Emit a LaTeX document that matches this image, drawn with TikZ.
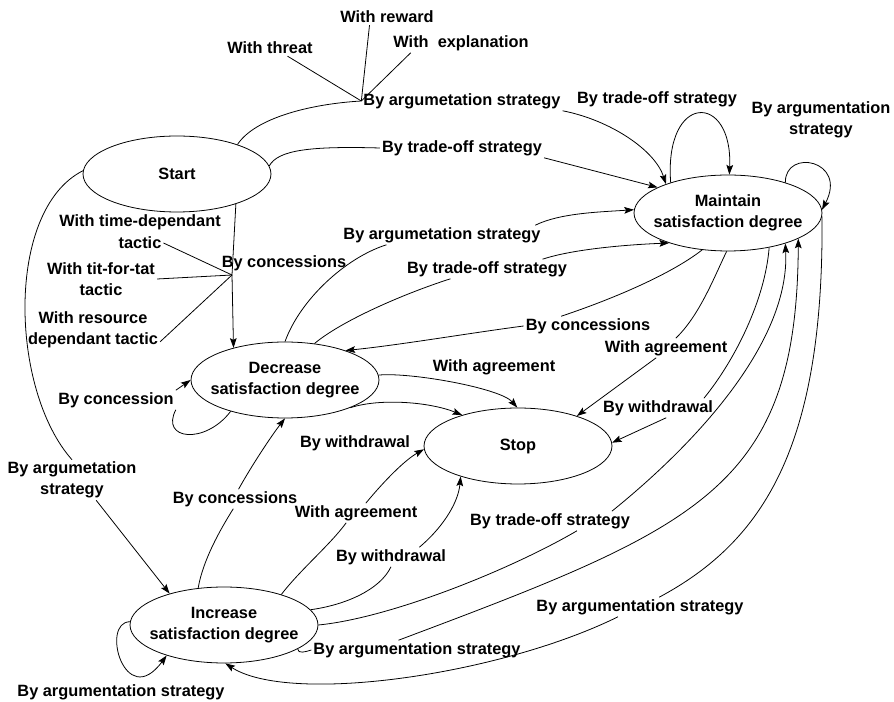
\documentclass[tikz,border=0pt]{standalone}
\usepackage{fontspec}
\setmainfont{Liberation Sans}
\usetikzlibrary{shapes.geometric}
\usetikzlibrary{arrows.meta}
\tikzstyle{state}=[draw, ellipse, inner xsep=-5pt, inner ysep=0pt, minimum width=3.76cm, minimum height=1.52cm, align=center, font=\fontsize{9.3}{11.9}\selectfont\bfseries]
\tikzstyle{lbl}=[inner sep=1pt, align=center, font=\fontsize{9.3}{11.9}\selectfont\bfseries]
\tikzstyle{tran}=[-{Stealth[length=5.5pt, width=3.8pt, inset=1pt]}]

\begin{document}
\begin{tikzpicture}[x=0.02cm, y=-0.02cm, line width=0.45pt]
        \useasboundingbox (0,0) rectangle (894,702);
        % states
        \node[state] (S1) at (177,174) {Start};
        \node[state] (S2) at (728,213) {Maintain\\satisfaction degree};
        \node[state] (S3) at (285,380) {Decrease\\satisfaction degree};
        \node[state] (S4) at (518,446) {Stop};
        \node[state] (S5) at (224,625) {Increase\\satisfaction degree};
        % labels
        \node[lbl] (L1)  at (462,101) {By argumetation strategy};
        \node[lbl] (T1)  at (270,48)  {With threat};
        \node[lbl] (T2)  at (387,17)  {With reward};
        \node[lbl] (T3)  at (461,43)  {With\ \ explanation};
        \node[lbl] (L2)  at (462,148) {By trade-off strategy};
        \node[lbl] (L3)  at (657,99)  {By trade-off strategy};
        \node[lbl] (L4)  at (821,120) {By argumentation\\strategy};
        \node[lbl] (L5)  at (442,235) {By argumetation strategy};
        \node[lbl] (L6)  at (487,269) {By trade-off strategy};
        \node[lbl] (L7)  at (588,326) {By concessions};
        \node[lbl] (L8)  at (666,348) {With agreement};
        \node[lbl] (L9)  at (658,408) {By withdrawal};
        \node[lbl] (L10) at (494,367) {With agreement};
        \node[lbl] (L11) at (116,400) {By concession};
        \node[lbl] (L12) at (284,263) {By concessions};
        \node[lbl] (T4)  at (140,222) {With time-dependant};
        \node[lbl] (T4b) at (140,243) {tactic};
        \node[lbl] (T5)  at (101,279) {With tit-for-tat\\tactic};
        \node[lbl] (T6)  at (93,330)  {With resource\\dependant tactic};
        \node[lbl] (L13) at (72,480)  {By argumetation\\strategy};
        \node[lbl] (L14) at (235,499) {By concessions};
        \node[lbl] (L15) at (356,513) {With agreement};
        \node[lbl] (L16) at (391,557) {By withdrawal};
        \node[lbl] (L17) at (355,443) {By withdrawal};
        \node[lbl] (L18) at (550,521) {By trade-off strategy};
        \node[lbl] (L19) at (417,650) {By argumentation strategy};
        \node[lbl] (L20) at (640,607) {By argumentation strategy};
        \node[lbl] (L21) at (121,692) {By argumentation strategy};
        \coordinate (J1) at (232,275);
        % start
        \draw (S1.26) .. controls (255,118) and (310,104) .. (L1.west);
        \draw[tran] (L1.south east) .. controls (610,120) and (655,150) .. (S2.155);
        \draw (T1.-25) -- (L1.west);
        \draw (T2.205) -- (L1.west);
        \draw (T3.191) -- (L1.west);
        \draw (S1.5) .. controls (278,150) and (310,146) .. (L2.west);
        \draw[tran] (L2.south east) -- (S2.160);
        \draw (S1.333) -- (J1);
        \draw[tran] (J1) -- (S3.148);
        \draw (T4b.east) -- (J1);
        \draw (T5.east) -- (J1);
        \draw (T6.-10) -- (J1);
        \draw (S1.178) .. controls (5,210) and (10,390) .. (L13.north);
        \draw[tran] (L13.-40) -- (S5.150);
        % maintain
        \draw[tran] (S2.152) .. controls (664,92) and (733,92) .. (S2.88);
        \draw[tran] (S2.28) .. controls (785,148) and (848,160) .. (S2.2);
        \draw (S2.235) .. controls (670,275) and (610,300) .. (L7.160);
        \draw[tran] (L7.west) .. controls (470,333) and (400,345) .. (S3.26);
        \draw (S2.268) .. controls (715,275) and (700,315) .. (L8.45);
        \draw[tran] (L8.225) -- (S4.27);
        \draw (S2.320) .. controls (765,300) and (735,360) .. (L9.12);
        \draw[tran] (L9.-50) -- (S4.2);
        \draw (S2.-2) .. controls (824,446) and (764,541) .. (L20.27);
        \draw[tran] (L20.204) .. controls (500,675) and (290,705) .. (S5.272);
        % decrease
        \draw (S3.90) .. controls (300,300) and (345,258) .. (L5.190);
        \draw[tran] (L5.6) .. controls (560,213) and (600,212) .. (S2.178);
        \draw (S3.51) .. controls (340,322) and (400,295) .. (L6.195);
        \draw[tran] (L6.10) .. controls (570,250) and (620,245) .. (S2.207);
        \draw[tran] (S3.3) .. controls (410,372) and (500,388) .. (S4.91);
        \draw[tran] (S3.337) .. controls (380,398) and (430,402) .. (S4.151);
        \draw (S3.210) .. controls (205,445) and (160,440) .. (L11.south east);
        \draw[tran] (L11.north east) -- (S3.180);
        % increase
        \draw (S5.125) .. controls (203,560) and (220,530) .. (L14.260);
        \draw[tran] (L14.70) .. controls (252,465) and (272,435) .. (S3.270);
        \draw (S5.28) .. controls (300,570) and (330,545) .. (L15.225);
        \draw[tran] (L15.45) .. controls (385,480) and (405,460) .. (S4.182);
        \draw (S5.10) .. controls (345,605) and (380,590) .. (L16.south);
        \draw[tran] (L16.19) .. controls (440,530) and (458,505) .. (S4.208);
        \draw (S5.0) .. controls (390,618) and (510,570) .. (L18.-20);
        \draw[tran] (L18.9) .. controls (700,440) and (790,340) .. (S2.-28);
        \draw (S5.-18) .. controls (298,654) and (305,652) .. (L19.west);
        \draw[tran] (L19.152) .. controls (700,527) and (797,488) .. (S2.-20);
        \draw[tran] (S5.178) .. controls (100,622) and (125,712) .. (S5.208);
    \end{tikzpicture}
\end{document}
